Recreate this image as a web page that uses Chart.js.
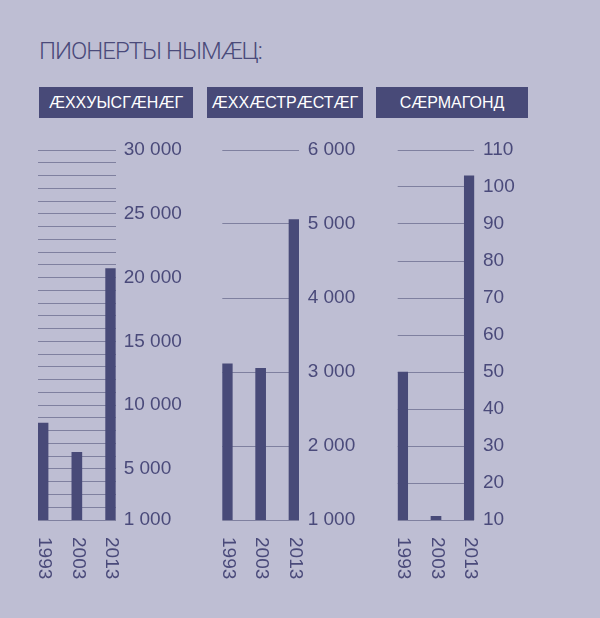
<!DOCTYPE html>
<html>
<head>
<meta charset="utf-8">
<script src="https://cdn.jsdelivr.net/npm/chart.js@4/dist/chart.umd.min.js"></script>
<style>
  html, body { margin: 0; padding: 0; }
  body { width: 600px; height: 618px; background: #bebed3; position: relative; overflow: hidden; font-family: "Liberation Sans", Arial, sans-serif; }
  #title { position: absolute; left: 39px; top: 36px; font-family: Roboto, "Liberation Sans", sans-serif; font-weight: 300; font-size: 24px; letter-spacing: -1px; color: #4a4a7a; line-height: 30px; white-space: nowrap; }
  .hdr { position: absolute; top: 87px; height: 31px; line-height: 32px; background: #484a78; color: #ffffff; font-size: 16px; text-align: center; white-space: nowrap; }
  canvas { position: absolute; }
</style>
</head>
<body>
<div id="title">ПИОНЕРТЫ НЫМÆЦ:</div>
<div class="hdr" id="h1" style="left:39px;width:154px;"></div>
<div class="hdr" id="h2" style="left:207px;width:156px;"></div>
<div class="hdr" id="h3" style="left:376px;width:152px;"></div>
<div style="position:absolute;left:30px;top:140px;width:170px;height:460px;"><canvas id="c1"></canvas></div>
<div style="position:absolute;left:210px;top:140px;width:180px;height:460px;"><canvas id="c2"></canvas></div>
<div style="position:absolute;left:390px;top:140px;width:180px;height:460px;"><canvas id="c3"></canvas></div>
<script>
// ---- data ----
const years = ["1993", "2003", "2013"];
const panelTitles = ["ÆXXУЫСГÆНÆГ", "ÆXXÆСТРÆСТÆГ", "СÆРМАГОНД"];
const values1 = [8600, 6300, 20700];
const values2 = [3110, 3050, 5060];
const values3 = [50, 11, 103];
const axis1 = { min: 1000, max: 30000, step: 1000 };
const axis2 = { min: 1000, max: 6000, step: 1000 };
const axis3 = { min: 10, max: 110, step: 10 };
const labeledTicks1 = [1000, 5000, 10000, 15000, 20000, 25000, 30000];

document.getElementById('h1').textContent = panelTitles[0];
document.getElementById('h2').textContent = panelTitles[1];
document.getElementById('h3').textContent = panelTitles[2];

const BAR = '#484a78';
const GRID = '#7f809f';
const TEXT = '#4a4a7a';

function fmt(v) {
  return String(v).replace(/\B(?=(\d{3})+(?!\d))/g, ' ');
}

const xLabelPlugin = {
  id: 'xLabels',
  afterDraw(chart) {
    const ctx = chart.ctx;
    const xs = chart.scales.x;
    const top = chart.chartArea.bottom + 17;
    ctx.save();
    ctx.fillStyle = TEXT;
    ctx.font = '19px "Liberation Sans", Arial, sans-serif';
    ctx.textAlign = 'left';
    ctx.textBaseline = 'middle';
    years.forEach((y, i) => {
      const px = xs.getPixelForValue(i);
      ctx.save();
      ctx.translate(px + 1, top);
      ctx.rotate(Math.PI / 2);
      ctx.fillText(y, 0, 0);
      ctx.restore();
    });
    ctx.restore();
  }
};

function makeChart(id, values, axis, padLeft, yWidth, labelPad, labelFilter) {
  return new Chart(document.getElementById(id), {
    type: 'bar',
    data: {
      datasets: [{
        data: values.map((v, i) => ({ x: i, y: v })),
        backgroundColor: BAR,
        borderWidth: 0,
        barThickness: 10
      }]
    },
    options: {
      responsive: true,
      maintainAspectRatio: false,
      animation: false,
      layout: { padding: { left: padLeft, right: 0, top: 10, bottom: 80 } },
      plugins: { legend: { display: false }, tooltip: { enabled: false } },
      scales: {
        x: {
          type: 'linear',
          display: false,
          offset: false,
          min: -0.15,
          max: 2.15,
          grid: { display: false }
        },
        y: {
          position: 'right',
          min: axis.min,
          max: axis.max,
          afterFit(scale) { scale.width = yWidth; scale.paddingTop = 0; scale.paddingBottom = 0; },
          afterBuildTicks(scale) {
            const t = [];
            for (let v = axis.min; v <= axis.max + 1e-9; v += axis.step) t.push({ value: v });
            scale.ticks = t;
          },
          border: { display: false },
          grid: { color: GRID, lineWidth: 1, drawTicks: false },
          ticks: {
            autoSkip: false,
            padding: labelPad,
            color: TEXT,
            font: { family: '"Liberation Sans", Arial, sans-serif', size: 19 },
            callback(v) { return labelFilter(v) ? fmt(v) : ''; }
          }
        }
      }
    },
    plugins: [xLabelPlugin]
  });
}

makeChart('c1', values1, axis1, 8, 84.3, 8, v => labeledTicks1.includes(v));
makeChart('c2', values2, axis2, 12.3, 91, 8.7, v => true);
makeChart('c3', values3, axis3, 7.7, 95.7, 8.7, v => true);
</script>
</body>
</html>
